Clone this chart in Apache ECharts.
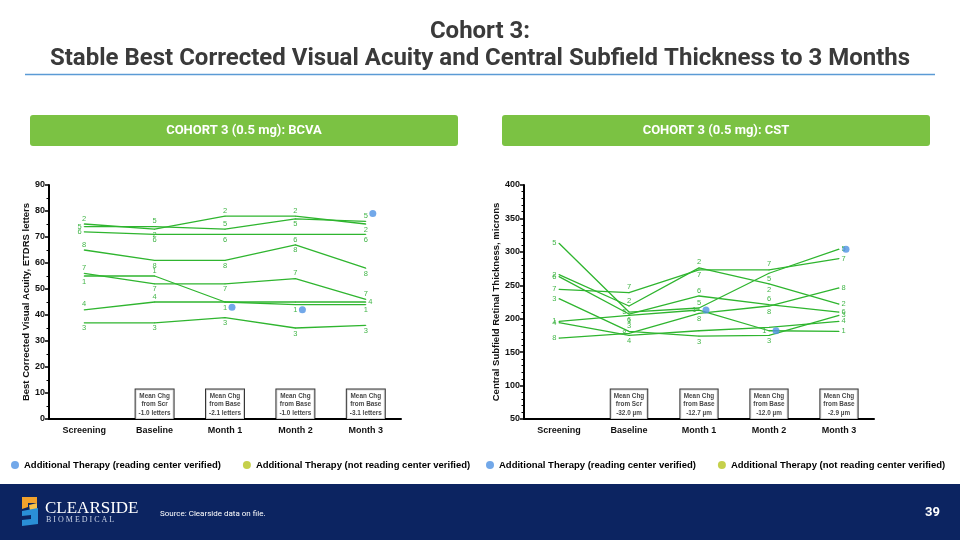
<!DOCTYPE html>
<html>
<head>
<meta charset="utf-8">
<script src="https://cdn.jsdelivr.net/npm/echarts@6/dist/echarts.min.js"></script>
<style>html,body{margin:0;padding:0;background:#fff}#c{width:960px;height:540px}</style>
</head>
<body>
<div id="c"></div>
<script>
// ---------- DATA ----------
const categories = ['Screening', 'Baseline', 'Month 1', 'Month 2', 'Month 3'];
const subjects = ['1', '2', '3', '4', '5', '6', '7', '8'];

// BCVA (ETDRS letters), per subject
const bcva1 = [55, 55, 45, 44, 44];
const bcva2 = [75, 73, 78, 78, 75];
const bcva3 = [37, 37, 39, 35, 36];
const bcva4 = [42, 45, 45, 45, 45];
const bcva5 = [74, 74, 73, 77, 76];
const bcva6 = [72, 71, 71, 71, 71];
const bcva7 = [56, 52, 52, 54, 46];
const bcva8 = [65, 61, 61, 67, 58];

// CST (microns), per subject
const cst1 = [196, 205, 213, 182, 181];
const cst2 = [266, 219, 276, 252, 222];
const cst3 = [230, 181, 174, 175, 205];
const cst4 = [194, 175, 182, 187, 196];
const cst5 = [313, 210, 216, 268, 304];
const cst6 = [263, 207, 234, 221, 210];
const cst7 = [244, 239, 273, 273, 290];
const cst8 = [171, 178, 208, 219, 246];

// Additional therapy (reading center verified) markers: [category, value]
const bcvaTherapy = [['Month 1', 43], ['Month 2', 42], ['Month 3', 79]];
const cstTherapy = [['Month 1', 213], ['Month 2', 182], ['Month 3', 304]];

// Mean change annotations
const bcvaMeanChg = ['', 'Mean Chg\nfrom Scr\n-1.0 letters', 'Mean Chg\nfrom Base\n-2.1 letters', 'Mean Chg\nfrom Base\n-1.0 letters', 'Mean Chg\nfrom Base\n-3.1 letters'];
const cstMeanChg = ['', 'Mean Chg\nfrom Scr\n-32.0 µm', 'Mean Chg\nfrom Base\n-12.7 µm', 'Mean Chg\nfrom Base\n-12.0 µm', 'Mean Chg\nfrom Base\n-2.9 µm'];

const bcvaTicks = { min: 0, max: 90, interval: 10 };
const cstTicks = { min: 50, max: 400, interval: 50 };

const legendNames = ['Additional Therapy (reading center verified)', 'Additional Therapy (not reading center verified)'];

// ---------- STYLE ----------
const T = 'top', B = 'bottom', L = 'left', R = 'right', N = null;
const bcvaLabelPos = {
  '1': [B, T, B, B, B], '2': [T, B, T, T, B], '3': [B, B, B, B, B], '4': [T, T, N, N, R],
  '5': [L, T, T, B, T], '6': [L, B, B, B, B], '7': [T, B, B, T, T], '8': [T, B, B, B, B]
};
const cstLabelPos = {
  '1': [L, B, L, L, R], '2': [L, T, T, B, R], '3': [L, T, B, B, R], '4': [L, B, N, N, R],
  '5': [L, L, T, B, R], '6': [L, B, T, T, R], '7': [L, T, B, T, R], '8': [L, L, B, B, R]
};
const LINE_GREEN = '#2fb52f';
const LABEL_GREEN = '#43b649';
const AXIS_FONT = 'Liberation Sans, Arial, sans-serif';

const bcvaData = { '1': bcva1, '2': bcva2, '3': bcva3, '4': bcva4, '5': bcva5, '6': bcva6, '7': bcva7, '8': bcva8 };
const cstData = { '1': cst1, '2': cst2, '3': cst3, '4': cst4, '5': cst5, '6': cst6, '7': cst7, '8': cst8 };

function lineSeries(prefix, dataMap, posMap, idx) {
  return subjects.map(s => ({
    name: prefix + ' ' + s,
    type: 'line',
    xAxisIndex: idx, yAxisIndex: idx,
    symbol: 'circle', symbolSize: 1,
    itemStyle: { color: LINE_GREEN },
    lineStyle: { color: LINE_GREEN, width: 1.3 },
    silent: true,
    z: 2,
    data: dataMap[s].map((v, i) => {
      const p = posMap[s][i];
      return {
        value: v,
        label: p ? { show: true, position: p, distance: (p === L || p === R) ? 2 : 1 } : { show: false }
      };
    }),
    label: { show: true, formatter: s, color: LABEL_GREEN, fontSize: 7.5, fontFamily: AXIS_FONT }
  }));
}

function boxSeries(texts, base, idx) {
  const d = [];
  texts.forEach((t, i) => { if (t) d.push({ value: [categories[i], base], label: { formatter: t } }); });
  return {
    type: 'scatter', xAxisIndex: idx, yAxisIndex: idx, symbolSize: 0, silent: true, z: 5,
    data: d,
    label: {
      show: true, position: 'top', distance: 0,
      backgroundColor: '#fff', borderColor: '#000', borderWidth: 1,
      padding: [3, 3, 2, 3], color: '#111', fontSize: 6.4, fontWeight: 'bold',
      lineHeight: 8.2, align: 'center', fontFamily: AXIS_FONT
    }
  };
}

function therapySeries(data, idx) {
  return {
    name: legendNames[0], type: 'scatter', xAxisIndex: idx, yAxisIndex: idx,
    symbolSize: 7, symbolOffset: [7, 0], itemStyle: { color: '#4f92e3' }, z: 4, data: data
  };
}
function therapySeries2(idx) {
  return {
    name: legendNames[1], type: 'scatter', xAxisIndex: idx, yAxisIndex: idx,
    symbolSize: 7, itemStyle: { color: '#b7c41e' }, data: []
  };
}

function xAx(idx) {
  return {
    type: 'category', gridIndex: idx, data: categories, boundaryGap: true,
    axisLine: { lineStyle: { color: '#000', width: 2 } },
    axisTick: { alignWithLabel: true, length: 4, lineStyle: { color: '#000', width: 1.5 } },
    axisLabel: { color: '#111', fontWeight: 'bold', fontSize: 9, fontFamily: AXIS_FONT, margin: 7 },
    splitLine: { show: false }
  };
}
function yAx(idx, ticks, name, gap, minorN) {
  return {
    type: 'value', gridIndex: idx, min: ticks.min, max: ticks.max, interval: ticks.interval,
    name: name, nameLocation: 'middle', nameGap: gap,
    nameTextStyle: { color: '#111', fontWeight: 'bold', fontSize: 9.5, fontFamily: AXIS_FONT },
    axisLine: { show: true, lineStyle: { color: '#000', width: 2 } },
    axisTick: { show: true, length: 4, lineStyle: { color: '#000', width: 1.5 } },
    minorTick: { show: true, splitNumber: minorN, length: 2.5, lineStyle: { color: '#000', width: 1 } },
    axisLabel: { color: '#111', fontWeight: 'bold', fontSize: 9, fontFamily: AXIS_FONT, margin: 4 },
    splitLine: { show: false }
  };
}

const chart = echarts.init(document.getElementById('c'), null, { renderer: 'canvas' });

const option = {
  animation: false,
  backgroundColor: '#fff',
  title: {
    text: 'Cohort 3:\nStable Best Corrected Visual Acuity and Central Subfield Thickness to 3 Months',
    left: 'center', top: 13,
    textStyle: { color: '#3a3a3a', fontSize: 24, fontWeight: 'bold', fontFamily: 'Roboto', lineHeight: 27 }
  },
  legend: [
    { data: legendNames, left: 6, top: 455, icon: 'circle', itemWidth: 8, itemHeight: 8, itemGap: 22,
      textStyle: { color: '#000', fontWeight: 'bold', fontSize: 9.5, fontFamily: AXIS_FONT }, selectedMode: false },
    { data: legendNames, left: 481, top: 455, icon: 'circle', itemWidth: 8, itemHeight: 8, itemGap: 22,
      textStyle: { color: '#000', fontWeight: 'bold', fontSize: 9.5, fontFamily: AXIS_FONT }, selectedMode: false }
  ],
  grid: [
    { left: 49, top: 185, width: 352, height: 234 },
    { left: 524, top: 185, width: 350, height: 234 }
  ],
  xAxis: [xAx(0), xAx(1)],
  yAxis: [
    yAx(0, bcvaTicks, 'Best Corrected Visual Acuity, ETDRS letters', 18, 2),
    yAx(1, cstTicks, 'Central Subfield Retinal Thickness, microns', 23, 5)
  ],
  series: [
    ...lineSeries('BCVA', bcvaData, bcvaLabelPos, 0),
    ...lineSeries('CST', cstData, cstLabelPos, 1),
    boxSeries(bcvaMeanChg, bcvaTicks.min, 0),
    boxSeries(cstMeanChg, cstTicks.min, 1),
    therapySeries(bcvaTherapy, 0),
    therapySeries(cstTherapy, 1),
    therapySeries2(0)
  ],
  graphic: [
    { type: 'line', shape: { x1: 25, y1: 74.5, x2: 935, y2: 74.5 }, style: { stroke: '#5b9bd5', lineWidth: 1.5 } },
    { type: 'rect', shape: { x: 30, y: 115, width: 428, height: 31, r: 3 }, style: { fill: '#7bc243' } },
    { type: 'text', x: 244, y: 131, style: { text: 'COHORT 3 (0.5 mg): BCVA', fill: '#fff', font: 'bold 13px Roboto', align: 'center', verticalAlign: 'middle' } },
    { type: 'rect', shape: { x: 502, y: 115, width: 428, height: 31, r: 3 }, style: { fill: '#7bc243' } },
    { type: 'text', x: 716, y: 131, style: { text: 'COHORT 3 (0.5 mg): CST', fill: '#fff', font: 'bold 13px Roboto', align: 'center', verticalAlign: 'middle' } },
    { type: 'rect', shape: { x: 0, y: 484, width: 960, height: 56 }, style: { fill: '#0c2461' } },
    // logo icon
    { type: 'polygon', shape: { points: [[22, 497], [37, 497], [37, 503], [28, 503], [28, 507], [22, 509]] }, style: { fill: '#f2a22c' } },
    { type: 'polygon', shape: { points: [[29, 505], [37, 503], [37, 509], [30, 511]] }, style: { fill: '#f6c04a' } },
    { type: 'polygon', shape: { points: [[22, 511], [38, 508], [38, 524], [22, 526], [22, 520], [31, 519], [31, 515], [22, 516]] }, style: { fill: '#2a8fd6' } },
    { type: 'text', x: 45, y: 509, style: { text: 'CLEARSIDE', fill: '#fff', font: '17px "Liberation Serif", serif', verticalAlign: 'middle' } },
    { type: 'text', x: 46, y: 520, style: { text: 'B I O M E D I C A L', fill: '#c9d2e6', font: '8px "Liberation Serif", serif', verticalAlign: 'middle' } },
    { type: 'text', x: 160, y: 514, style: { text: 'Source: Clearside data on file.', fill: '#fff', font: '8px Roboto', verticalAlign: 'middle' } },
    { type: 'text', x: 940, y: 513, style: { text: '39', fill: '#fff', font: 'bold 13px Roboto', align: 'right', verticalAlign: 'middle' } }
  ]
};
chart.setOption(option);
</script>
</body>
</html>
